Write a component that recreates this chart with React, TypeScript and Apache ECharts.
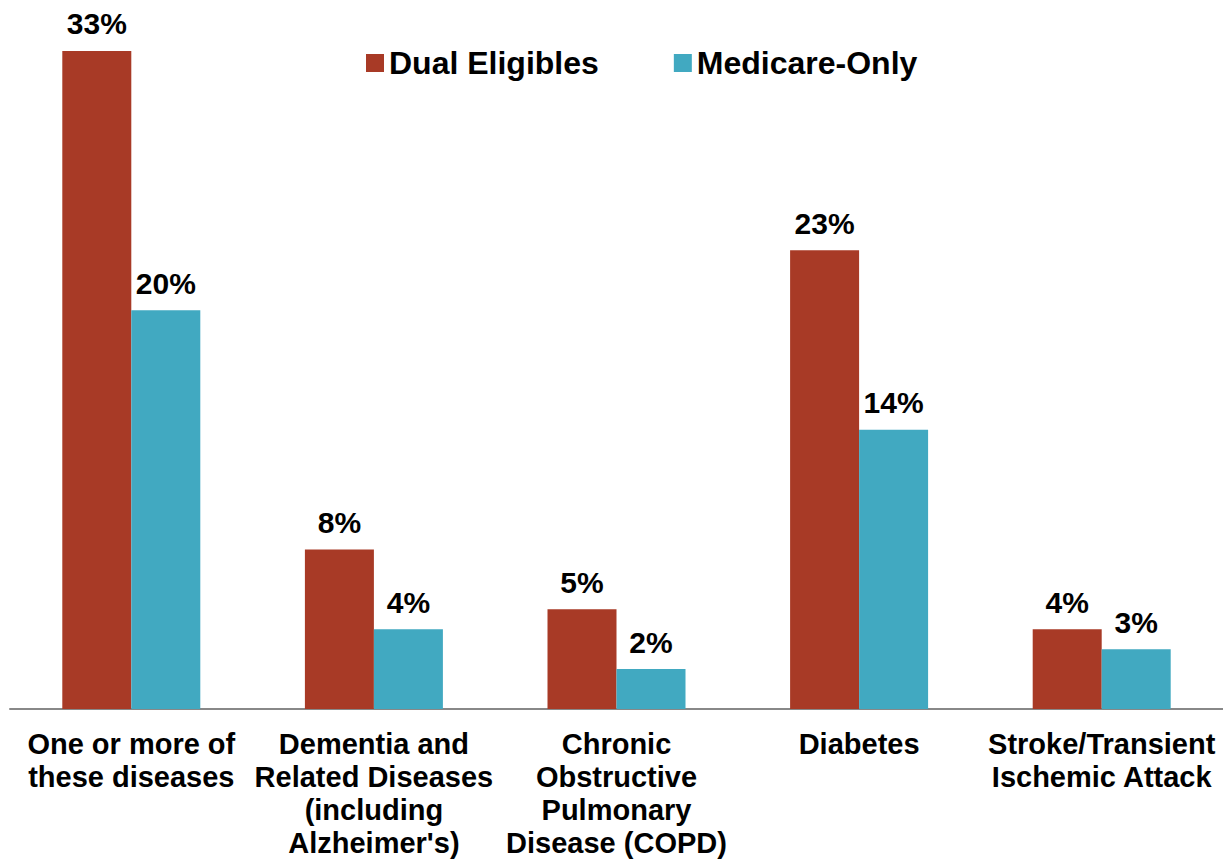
import React, { useEffect, useRef } from "react";
import * as echarts from "echarts";

const categories = [
  "One or more of\nthese diseases",
  "Dementia and\nRelated Diseases\n(including\nAlzheimer's)",
  "Chronic\nObstructive\nPulmonary\nDisease (COPD)",
  "Diabetes",
  "Stroke/Transient\nIschemic Attack",
];
const dualEligibles = [33, 8, 5, 23, 4];
const medicareOnly = [20, 4, 2, 14, 3];
const seriesNames = ["Dual Eligibles", "Medicare-Only"];

export default function App() {
  const ref = useRef<HTMLDivElement>(null);
  useEffect(() => {
    if (!ref.current) return;
    const chart = echarts.init(ref.current, null, { renderer: "svg" });
    const font = "Liberation Sans, Arial, sans-serif";
    const label = {
      show: true,
      position: "top",
      distance: 12,
      formatter: "{c}%",
      fontFamily: font,
      fontWeight: "bold",
      fontSize: 30,
      color: "#000",
    };
    chart.setOption({
      animation: false,
      legend: {
        top: 47,
        left: 366,
        padding: 0,
        itemWidth: 18,
        itemHeight: 18,
        itemGap: 75,
        icon: "rect",
        textStyle: { fontFamily: font, fontWeight: "bold", fontSize: 32, color: "#000" },
        data: seriesNames,
      },
      grid: { left: 10, right: 0, top: 11, bottom: 152, containLabel: false },
      xAxis: {
        type: "category",
        data: categories,
        axisLine: { show: true, lineStyle: { color: "#888", width: 2 } },
        axisTick: { show: false },
        axisLabel: {
          interval: 0,
          margin: 18,
          fontFamily: font,
          fontWeight: "bold",
          fontSize: 29,
          lineHeight: 33,
          color: "#000",
        },
      },
      yAxis: { type: "value", min: 0, max: 35, show: false, splitLine: { show: false } },
      series: [
        {
          name: seriesNames[0],
          type: "bar",
          data: dualEligibles,
          barWidth: 69,
          barGap: "0%",
          itemStyle: { color: "#A83A26" },
          label,
        },
        {
          name: seriesNames[1],
          type: "bar",
          data: medicareOnly,
          barWidth: 69,
          itemStyle: { color: "#41A9C1" },
          label,
        },
      ],
    });
    return () => chart.dispose();
  }, []);
  return (
    <div
      ref={ref}
      style={{ position: "absolute", left: 0, top: 0, width: 1223, height: 861, background: "#fff" }}
    />
  );
}
